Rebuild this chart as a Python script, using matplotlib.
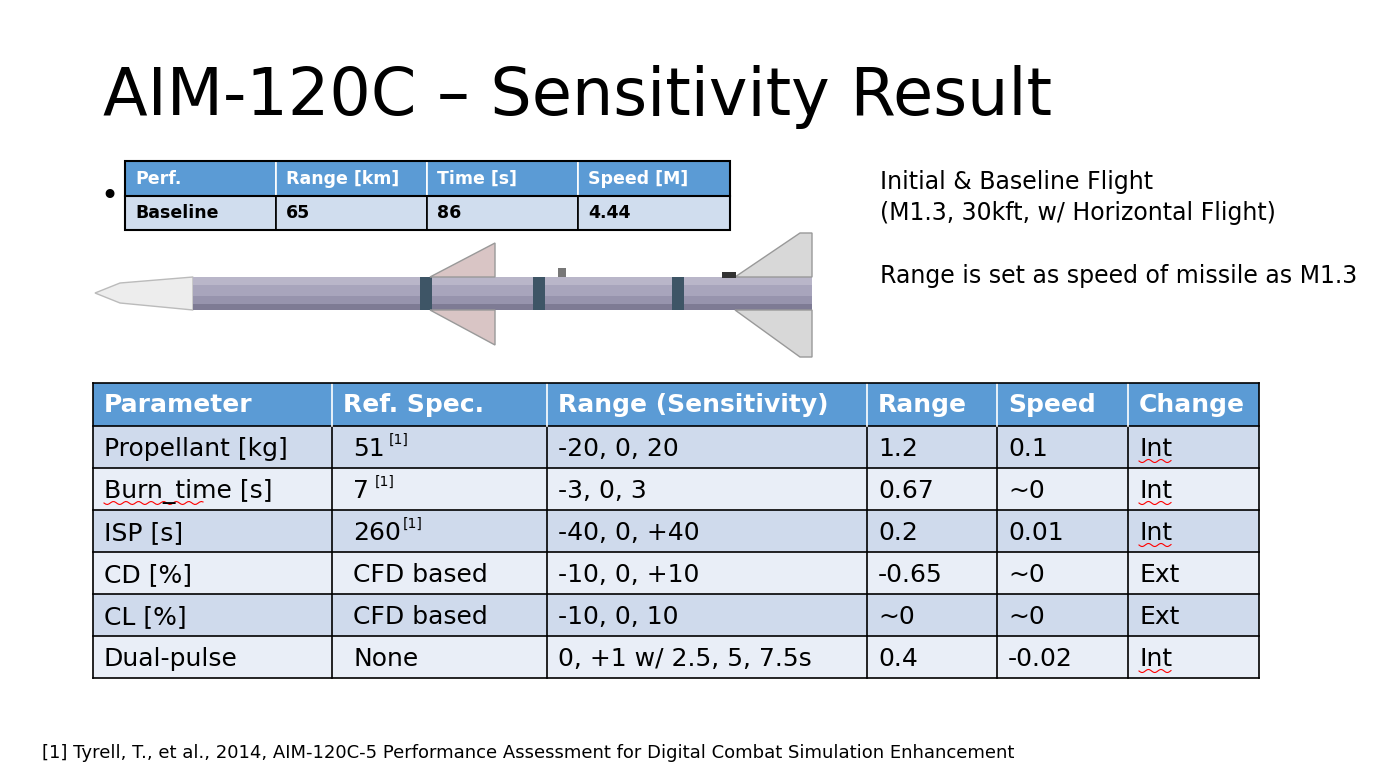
import numpy as np
import matplotlib.pyplot as plt
from matplotlib.patches import Rectangle, Polygon

# data
small_header = ["Perf.", "Range [km]", "Time [s]", "Speed [M]"]
small_row = ["Baseline", "65", "86", "4.44"]

header = ["Parameter", "Ref. Spec.", "Range (Sensitivity)", "Range", "Speed", "Change"]
params = ["Propellant [kg]", "Burn_time [s]", "ISP [s]", "CD [%]", "CL [%]", "Dual-pulse"]
ref_spec = ["51", "7", "260", "CFD based", "CFD based", "None"]
ref_cited = [True, True, True, False, False, False]
sens_range = ["-20, 0, 20", "-3, 0, 3", "-40, 0, +40", "-10, 0, +10", "-10, 0, 10", "0, +1 w/ 2.5, 5, 7.5s"]
range_val = ["1.2", "0.67", "0.2", "-0.65", "~0", "0.4"]
speed_val = ["0.1", "~0", "0.01", "~0", "~0", "-0.02"]
change = ["Int", "Int", "Int", "Ext", "Ext", "Int"]

BLUE = "#5B9BD5"
ROW_A = "#CFDAEC"
ROW_B = "#E9EEF7"

fig = plt.figure(figsize=(13.93, 7.79), dpi=100)
ax = fig.add_axes([0, 0, 1, 1])
ax.set_xlim(0, 1393)
ax.set_ylim(779, 0)
ax.axis("off")

ax.text(103, 115, "AIM-120C \u2013 Sensitivity Result", fontsize=47, va="baseline")
ax.text(100, 205, "\u2022", fontsize=22, va="baseline")


def squiggle(x0, x1, y):
    xs = np.linspace(x0, x1, 60)
    ax.plot(xs, y + 1.5 * np.sin((xs - x0) / 2.0), color="red", lw=0.8)


# small table
sx = [125, 276, 427, 578, 730]
sy = [161, 196, 230]
for r, row in enumerate([small_header, small_row]):
    for c, txt in enumerate(row):
        fc = BLUE if r == 0 else "#D0DDEE"
        ax.add_patch(Rectangle((sx[c], sy[r]), sx[c + 1] - sx[c], sy[r + 1] - sy[r],
                               fc=fc, ec="black" if r else "white", lw=1.2))
        ax.text(sx[c] + 10, (sy[r] + sy[r + 1]) / 2, txt, fontsize=12.5, fontweight="bold",
                va="center", color="white" if r == 0 else "black")
ax.plot([sx[0], sx[-1]], [sy[1], sy[1]], color="black", lw=1.5)
ax.add_patch(Rectangle((sx[0], sy[0]), sx[-1] - sx[0], sy[-1] - sy[0], fill=False, ec="black", lw=1.5))

# missile drawing
body_top, body_bot = 277, 310
ax.add_patch(Polygon([[95, 293], [120, 283], [193, body_top], [193, body_bot], [120, 303]],
                     closed=True, fc="#EDEDED", ec="#BBBBBB", lw=1))
for i, (y0, col) in enumerate([(277, "#B9B6C9"), (285, "#A8A5BC"), (296, "#9794AD"), (304, "#7E7B94")]):
    h = [8, 11, 8, 6][i]
    ax.add_patch(Rectangle((193, y0), 619, h, fc=col, ec="none"))
for bx in [420, 533, 672]:
    ax.add_patch(Rectangle((bx, body_top), 12, body_bot - body_top, fc="#3E5566", ec="none"))
ax.add_patch(Polygon([[430, 277], [495, 243], [495, 277]], fc="#D9C5C5", ec="#999999", lw=1))
ax.add_patch(Polygon([[430, 310], [495, 345], [495, 310]], fc="#D9C5C5", ec="#999999", lw=1))
ax.add_patch(Polygon([[735, 277], [800, 233], [812, 233], [812, 277]], fc="#D8D8D8", ec="#999999", lw=1))
ax.add_patch(Polygon([[735, 310], [800, 357], [812, 357], [812, 310]], fc="#D8D8D8", ec="#999999", lw=1))
ax.add_patch(Rectangle((558, 268), 8, 9, fc="#777777", ec="none"))
ax.add_patch(Rectangle((722, 272), 14, 6, fc="#333333", ec="none"))

# right notes
ax.text(880, 182, "Initial & Baseline Flight", fontsize=17, va="center")
ax.text(880, 213, "(M1.3, 30kft, w/ Horizontal Flight)", fontsize=17, va="center")
ax.text(880, 276, "Range is set as speed of missile as M1.3", fontsize=17, va="center")

# main table
cx = [93, 332, 547, 867, 997, 1128, 1259]
ry = [383, 426, 468, 510, 552, 594, 636, 678]
ax.add_patch(Rectangle((cx[0], ry[0]), cx[-1] - cx[0], ry[1] - ry[0], fc=BLUE, ec="none"))
for c, txt in enumerate(header):
    ax.text(cx[c] + 11, (ry[0] + ry[1]) / 2, txt, fontsize=18, fontweight="bold",
            color="white", va="center")
rows = list(zip(params, ref_spec, sens_range, range_val, speed_val, change))
for r, row in enumerate(rows):
    y0, y1 = ry[r + 1], ry[r + 2]
    ax.add_patch(Rectangle((cx[0], y0), cx[-1] - cx[0], y1 - y0,
                           fc=ROW_A if r % 2 == 0 else ROW_B, ec="none"))
    for c, txt in enumerate(row):
        pad = 21 if c == 1 else 11
        t = ax.text(cx[c] + pad, (y0 + y1) / 2 + 2, txt, fontsize=18, va="center")
        if c == 1 and ref_cited[r]:
            ax.text(cx[c] + pad + 14 * len(txt) + 8, y0 + 14, "[1]", fontsize=10, va="center")
    if change[r] == "Int":
        squiggle(cx[5] + 11, cx[5] + 43, y1 - 7)
    if params[r].startswith("Burn_time"):
        squiggle(cx[0] + 11, cx[0] + 110, y1 - 7)
for y in ry[1:]:
    ax.plot([cx[0], cx[-1]], [y, y], color="black", lw=1.2)
for x in cx:
    ax.plot([x, x], [ry[1] if x not in (cx[0], cx[-1]) else ry[0], ry[-1]], color="black", lw=1.2)
for x in cx[1:-1]:
    ax.plot([x, x], [ry[0], ry[1]], color="white", lw=1.2)
ax.plot([cx[0], cx[-1]], [ry[0], ry[0]], color="black", lw=1.2)

ax.text(42, 753, "[1] Tyrell, T., et al., 2014, AIM-120C-5 Performance Assessment for Digital Combat Simulation Enhancement",
        fontsize=13, va="center")

fig.savefig("out.png", dpi=100)
